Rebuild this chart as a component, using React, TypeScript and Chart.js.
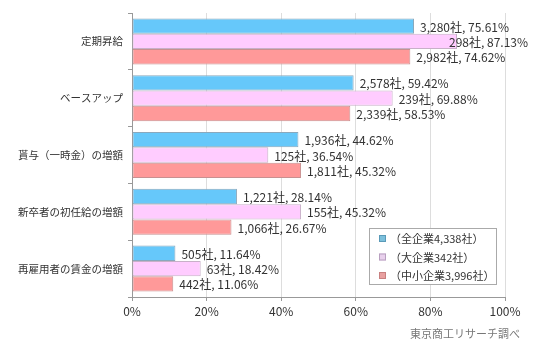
import React, { useEffect, useRef } from "react";
import { Chart, registerables } from "chart.js";

Chart.register(...registerables);

const categories = [
  "定期昇給",
  "ベースアップ",
  "貰与（一時金）の増額",
  "新卒者の初任給の増額",
  "再雇用者の賃金の増額",
];

const seriesLabels = ["（全企業4,338社）", "（大企業342社）", "（中小企業3,996社）"];

const allCounts = [3280, 2578, 1936, 1221, 505];
const allPct = [75.61, 59.42, 44.62, 28.14, 11.64];
const largeCounts = [298, 239, 125, 155, 63];
const largePct = [87.13, 69.88, 36.54, 45.32, 18.42];
const smeCounts = [2982, 2339, 1811, 1066, 442];
const smePct = [74.62, 58.53, 45.32, 26.67, 11.06];

const xTicks = [0, 20, 40, 60, 80, 100];
const sourceNote = "東京商工リサーチ調べ";

const FONT = "'Noto Sans CJK JP', 'Noto Sans', sans-serif";

const counts = [allCounts, largeCounts, smeCounts];
const fills = ["#66C8FA", "#FFCCFF", "#FF9999"];
const borders = ["#8aa8bc", "#c8b0c8", "#c89090"];
const markerFills = ["#7cc0dc", "#e8d0ec", "#e8a0a0"];
const markerBorders = ["#5a9ab8", "#b8a0c0", "#c88080"];

const fmt = (n: number) => n.toLocaleString("en-US");

const labelPlugin = {
  id: "barLabels",
  afterDatasetsDraw(chart: any) {
    const ctx = chart.ctx;
    ctx.save();
    ctx.font = `12px ${FONT}`;
    ctx.fillStyle = "#333333";
    ctx.textBaseline = "middle";
    ctx.textAlign = "left";
    chart.data.datasets.forEach((ds: any, di: number) => {
      const meta = chart.getDatasetMeta(di);
      meta.data.forEach((el: any, i: number) => {
        const text = `${fmt(counts[di][i])}社, ${ds.data[i].toFixed(2)}%`;
        const w = ctx.measureText(text).width;
        let x = el.x + 6;
        if (x + w > chart.width - 8) x = chart.width - 8 - w;
        ctx.fillText(text, x, el.y + 1);
      });
    });
    ctx.restore();
  },
  afterDraw(chart: any) {
    const ctx = chart.ctx;
    const area = chart.chartArea;
    ctx.save();
    // legend box
    const bw = 128;
    const bh = 57;
    const bx = area.right - 8 - bw;
    const by = area.bottom - 12 - bh;
    ctx.fillStyle = "#ffffff";
    ctx.fillRect(bx, by, bw, bh);
    ctx.strokeStyle = "#aaaaaa";
    ctx.lineWidth = 1;
    ctx.strokeRect(bx + 0.5, by + 0.5, bw - 1, bh - 1);
    ctx.font = `11px ${FONT}`;
    ctx.textBaseline = "middle";
    ctx.textAlign = "left";
    chart.data.datasets.forEach((ds: any, di: number) => {
      const cy = by + 10 + di * 18.5;
      ctx.fillStyle = markerFills[di];
      ctx.fillRect(bx + 10, cy - 3, 7, 7);
      ctx.strokeStyle = markerBorders[di];
      ctx.strokeRect(bx + 10.5, cy - 2.5, 6, 6);
      ctx.fillStyle = "#333333";
      ctx.fillText(ds.label, bx + 21, cy + 1);
    });
    // source note
    ctx.font = `11px ${FONT}`;
    ctx.fillStyle = "#777777";
    ctx.textAlign = "right";
    ctx.fillText(sourceNote, area.right + 15, area.bottom + 37);
    ctx.restore();
  },
};

function ChartView() {
  const ref = useRef<HTMLCanvasElement | null>(null);
  useEffect(() => {
    if (!ref.current) return;
    const chart = new Chart(ref.current, {
      type: "bar",
      data: {
        labels: categories,
        datasets: [allPct, largePct, smePct].map((d, i) => ({
          label: seriesLabels[i],
          data: d,
          backgroundColor: fills[i],
          borderColor: borders[i],
          borderWidth: 1,
          borderSkipped: false,
          categoryPercentage: 0.81,
          barPercentage: 1,
        })),
      },
      options: {
        indexAxis: "y",
        responsive: false,
        animation: false,
        layout: { padding: { top: 13, right: 31, bottom: 0, left: 0 } },
        plugins: {
          legend: { display: false },
          tooltip: { enabled: false },
        },
        scales: {
          x: {
            min: 0,
            max: 100,
            afterBuildTicks(scale: any) {
              scale.ticks = xTicks.map((v) => ({ value: v }));
            },
            afterFit(scale: any) {
              scale.height = 56;
            },
            ticks: {
              callback: (v: any) => `${v}%`,
              font: { family: FONT, size: 12 },
              color: "#333333",
              padding: 3,
              maxRotation: 0,
            },
            grid: {
              color: "#dddddd",
              tickColor: "#999999",
              tickLength: 4,
            },
            border: { color: "#999999" },
          },
          y: {
            afterFit(scale: any) {
              scale.width = 132;
            },
            ticks: {
              font: { family: FONT, size: 10.5 },
              color: "#333333",
              padding: 5,
            },
            grid: {
              drawOnChartArea: false,
              tickColor: "#999999",
              tickLength: 4,
              offset: true,
            },
            border: { color: "#999999" },
          },
        },
      },
      plugins: [labelPlugin],
    } as any);
    return () => chart.destroy();
  }, []);
  return <canvas ref={ref} width={536} height={353} style={{ display: "block" }} />;
}

export default function App() {
  return (
    <div style={{ position: "absolute", left: 0, top: 0, width: 536, height: 353, background: "#fff" }}>
      <ChartView />
    </div>
  );
}
